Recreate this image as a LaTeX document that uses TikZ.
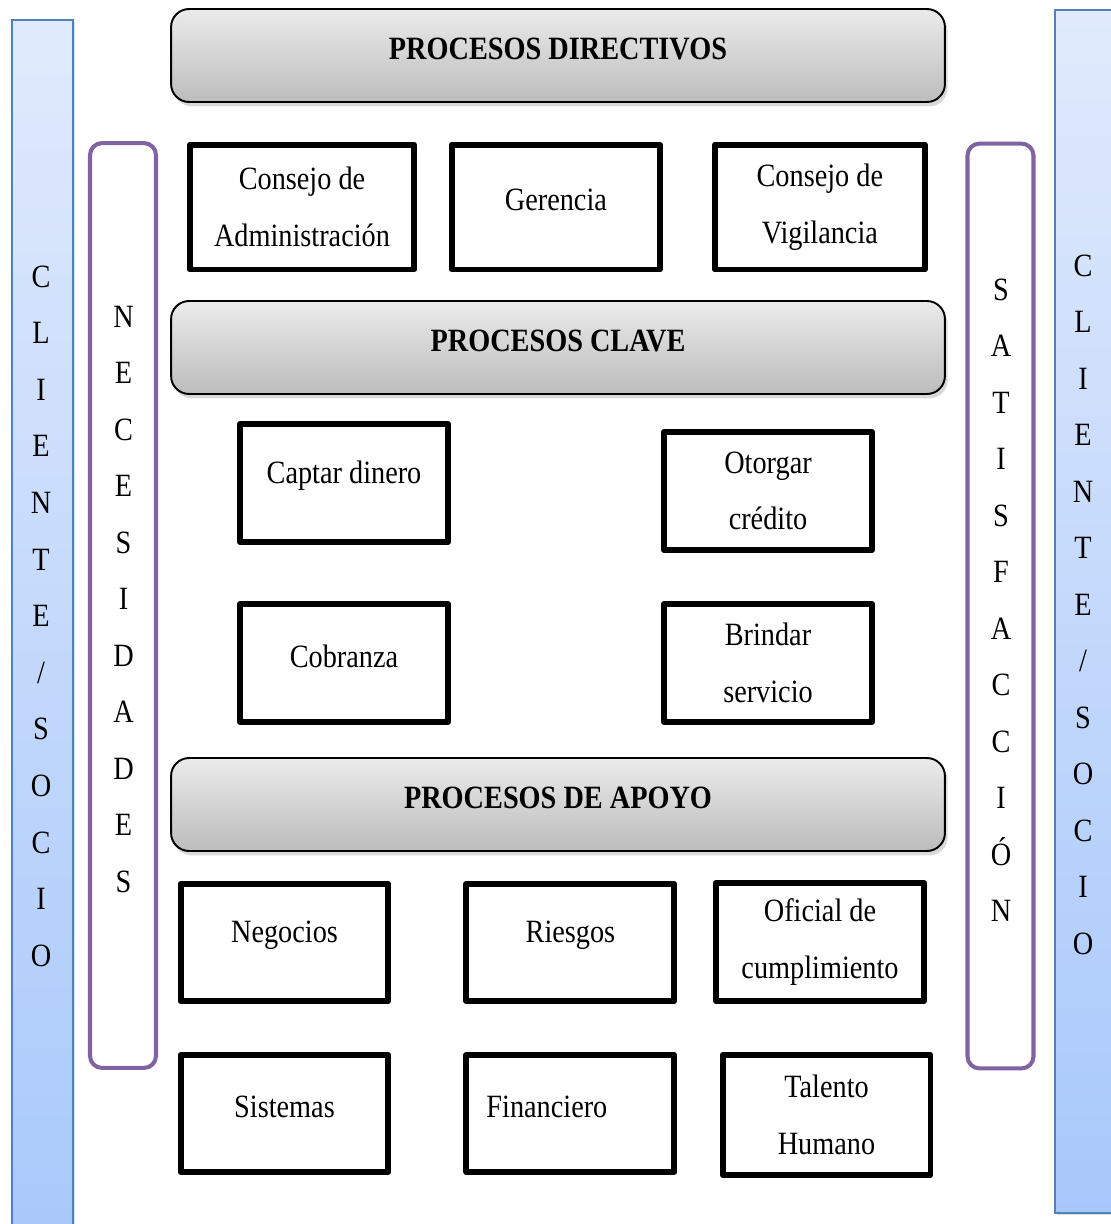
\documentclass[tikz,border=0pt]{standalone}
\usepackage{fontspec}
\setmainfont{Liberation Serif}[FakeStretch=0.87]
\usepackage{xcolor}
\usepackage{tikz}
\usetikzlibrary{positioning, shadows}
\definecolor{cliborde}{HTML}{4F81BD}
\definecolor{clitop}{HTML}{E0EAFC}
\definecolor{clibot}{HTML}{A8C8FB}
\definecolor{morado}{HTML}{8064A2}
\definecolor{grisclaro}{HTML}{EBEBEB}
\definecolor{grisoscuro}{HTML}{BCBCBC}
\newcommand{\subetexto}[1]{\raisebox{0.14cm}[\height][\depth]{#1}}

\begin{document}
\begin{tikzpicture}[
  x=0.02cm, y=-0.02cm,
  font=\fontsize{18.5}{32.3}\selectfont,
  cliente/.style={
    rectangle, draw=cliborde, line width=0.85pt,
    top color=clitop, bottom color=clibot, minimum width=1.22cm,
    drop shadow={shadow xshift=1.2pt, shadow yshift=-1.2pt, opacity=0.25}
  },
  marco/.style={
    rectangle, rounded corners=0.24cm, draw=morado, line width=2.3pt,
    minimum width=1.32cm, minimum height=18.5cm
  },
  titulo/.style={
    rectangle, rounded corners=0.36cm, draw=black, line width=1.1pt,
    top color=grisclaro, bottom color=grisoscuro,
    minimum width=15.48cm, minimum height=1.86cm,
    font=\fontsize{18.5}{22}\selectfont\bfseries,
    drop shadow={shadow xshift=1.5pt, shadow yshift=-2.5pt, opacity=0.3}
  },
  proceso/.style={
    rectangle, draw=black, line width=3.4pt, line join=round,
    minimum width=4.16cm, minimum height=2.36cm, align=center
  },
  letra/.style={anchor=base, inner sep=0pt},
]
\useasboundingbox (0,0) rectangle (1110,1224);

% barras cliente / socio
\node[cliente, minimum height=24.8cm] (cliizq) at (42.5,640) {};
\node[cliente, minimum height=24.06cm] (clider) at (1085.5,611.5) {};

% necesidades y satisfaccion
\node[marco] (necesidades) at (123,605.5) {};
\node[marco] (satisfaccion) at (1000.5,606) {};

% procesos directivos
\node[titulo] (directivos) at (558,55.5) {\subetexto{PROCESOS DIRECTIVOS}};
\node[proceso, minimum width=4.48cm, minimum height=2.5cm] (cadm) at (302,207) {Consejo de\\Administración};
\node[proceso, minimum height=2.5cm, right=0.64cm of cadm] (ger) {\subetexto{Gerencia}};
\node[proceso, minimum width=4.2cm, minimum height=2.5cm, right=0.98cm of ger] (cvig) {Consejo de\\Vigilancia};

% procesos clave
\node[titulo] (clave) at (558,347.5) {\subetexto{PROCESOS CLAVE}};
\node[proceso] (captar) at (344,483) {\subetexto{Captar dinero}};
\node[proceso] (otorgar) at (768,491) {Otorgar\\crédito};
\node[proceso, below=1.12cm of captar] (cobranza) {\subetexto{Cobranza}};
\node[proceso, below=0.96cm of otorgar] (brindar) {Brindar\\servicio};

% procesos de apoyo
\node[titulo] (apoyo) at (558,804.5) {\subetexto{PROCESOS DE APOYO}};
\node[proceso, minimum height=2.34cm] (negocios) at (284.5,942.5) {\subetexto{Negocios}};
\node[proceso, minimum height=2.34cm, right=1.44cm of negocios] (riesgos) {\subetexto{Riesgos}};
\node[proceso, minimum height=2.36cm] (oficial) at (820,942) {Oficial de\\cumplimiento};
\node[proceso, minimum height=2.34cm, below=0.96cm of negocios] (sistemas) {\subetexto{Sistemas}};
\node[proceso, minimum height=2.34cm, below=0.96cm of riesgos,
  text width=3.36cm, inner xsep=0.4cm, align=left] (financiero) {\subetexto{Financiero}};
\node[proceso, minimum height=2.4cm] (talento) at (826.5,1115) {Talento\\Humano};

% letras verticales
\foreach \l [count=\i] in {C,L,I,E,N,T,E,/,S,O,C,I,O}
  \node[letra] (cizq\i) at (41,{287+56.6*(\i-1)}) {\l};
\foreach \l [count=\i] in {C,L,I,E,N,T,E,/,S,O,C,I,O}
  \node[letra] (cder\i) at (1083,{276+56.5*(\i-1)}) {\l};
\foreach \l [count=\i] in {N,E,C,E,S,I,D,A,D,E,S}
  \node[letra] (nec\i) at (123.5,{327+56.5*(\i-1)}) {\l};
\foreach \l [count=\i] in {S,A,T,I,S,F,A,C,C,I,Ó,N}
  \node[letra] (sat\i) at (1001,{300+56.5*(\i-1)}) {\l};

\end{tikzpicture}
\end{document}
